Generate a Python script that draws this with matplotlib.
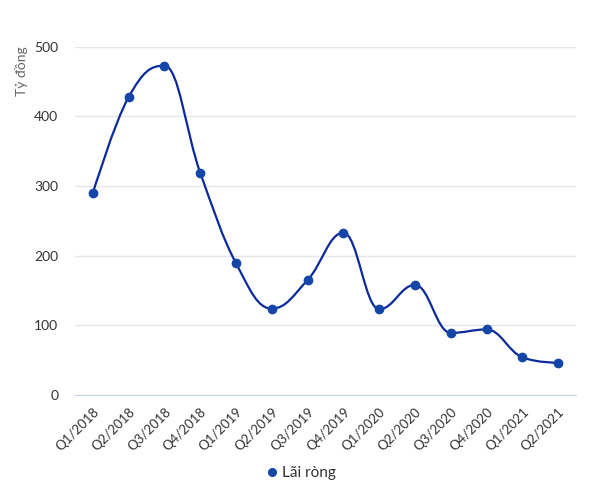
import matplotlib.pyplot as plt
import numpy as np
from matplotlib.path import Path
from matplotlib.patches import PathPatch
from matplotlib.lines import Line2D

plt.rcParams['font.family'] = ['Lato', 'DejaVu Sans']

quarters = ["Q1/2018", "Q2/2018", "Q3/2018", "Q4/2018",
            "Q1/2019", "Q2/2019", "Q3/2019", "Q4/2019",
            "Q1/2020", "Q2/2020", "Q3/2020", "Q4/2020",
            "Q1/2021", "Q2/2021"]
lai_rong = [290, 428, 473, 319, 189, 124, 165, 233, 123, 158, 89, 94, 54, 46]

LINE_COLOR = "#0b2a9c"
MARKER_COLOR = "#1446a8"
TEXT_COLOR = "#666666"


def spline_path(xs, ys, smoothing=1.5):
    # highcharts-style spline: bezier control points per point
    n = len(xs)
    denom = smoothing + 1
    lc = [(x, y) for x, y in zip(xs, ys)]
    rc = [(x, y) for x, y in zip(xs, ys)]
    for i in range(1, n - 1):
        px, py = xs[i], ys[i]
        lx, ly = xs[i - 1], ys[i - 1]
        nx, ny = xs[i + 1], ys[i + 1]
        lcx = (smoothing * px + lx) / denom
        lcy = (smoothing * py + ly) / denom
        rcx = (smoothing * px + nx) / denom
        rcy = (smoothing * py + ny) / denom
        if rcx != lcx:
            corr = (rcy - lcy) * (rcx - px) / (rcx - lcx) + py - rcy
            lcy += corr
            rcy += corr
        if lcy > ly and lcy > py:
            lcy = max(ly, py)
            rcy = 2 * py - lcy
        elif lcy < ly and lcy < py:
            lcy = min(ly, py)
            rcy = 2 * py - lcy
        if rcy > ny and rcy > py:
            rcy = max(ny, py)
            lcy = 2 * py - rcy
        elif rcy < ny and rcy < py:
            rcy = min(ny, py)
            lcy = 2 * py - rcy
        lc[i] = (lcx, lcy)
        rc[i] = (rcx, rcy)
    verts = [(xs[0], ys[0])]
    codes = [Path.MOVETO]
    for i in range(1, n):
        verts += [rc[i - 1], lc[i], (xs[i], ys[i])]
        codes += [Path.CURVE4] * 3
    return Path(verts, codes)


fig = plt.figure(figsize=(6, 4.93), dpi=100)
ax = fig.add_axes([0.125, 0.199, 0.835, 0.706])

x = np.arange(len(quarters))
ax.add_patch(PathPatch(spline_path(x, lai_rong), facecolor="none",
                       edgecolor=LINE_COLOR, lw=1.6, zorder=3))
ax.plot(x, lai_rong, linestyle="none", marker="o", markersize=6,
        color=MARKER_COLOR, zorder=4)

ax.set_xlim(-0.5, len(quarters) - 0.5)
ax.set_ylim(0, 500)
ax.set_yticks(range(0, 501, 100))
ax.yaxis.grid(True, color="#e6e6e6", lw=1)
ax.set_axisbelow(True)
for s in ["top", "right", "left"]:
    ax.spines[s].set_visible(False)
ax.spines["bottom"].set_color("#ccd6eb")

ax.set_xticks(x)
ax.set_xticklabels(quarters, rotation=45, ha="right", rotation_mode="anchor")
ax.tick_params(axis="x", length=0, pad=8, labelsize=9.5, labelcolor="#333333")
ax.tick_params(axis="y", length=0, pad=12, labelsize=10, labelcolor="#333333")

fig.text(0.035, 0.905, "Tỷ đồng", rotation=90, ha="center", va="top",
         fontsize=10, color=TEXT_COLOR)

handle = Line2D([], [], linestyle="none", marker="o", markersize=5.5,
                color=MARKER_COLOR)
fig.legend([handle], ["Lãi ròng"], loc="center", bbox_to_anchor=(0.5, 0.04),
           frameon=False, fontsize=11, labelcolor="#333333",
           handletextpad=0.2, handlelength=1.0)

plt.savefig("out.png", dpi=100)
